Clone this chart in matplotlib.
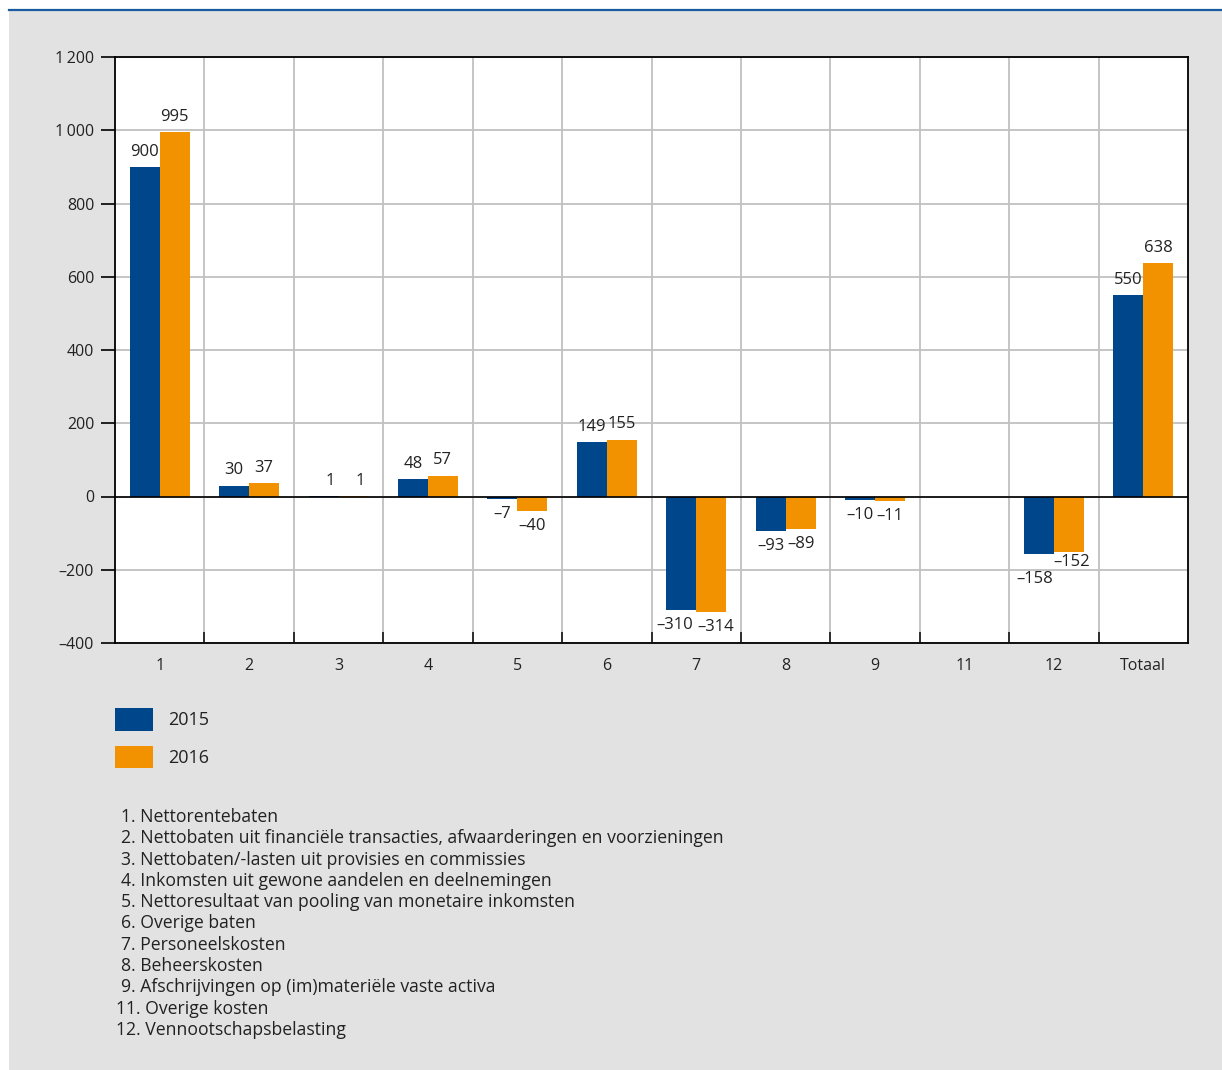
import numpy as np
import matplotlib
matplotlib.use("Agg")
import matplotlib.pyplot as plt
from matplotlib.patches import Rectangle
from matplotlib.ticker import FuncFormatter, FixedLocator

plt.rcParams['font.family'] = ['Open Sans', 'DejaVu Sans']

# data
categories = ['1', '2', '3', '4', '5', '6', '7', '8', '9', '11', '12', 'Totaal']
v2015 = [900, 30, 1, 48, -7, 149, -310, -93, -10, np.nan, -158, 550]
v2016 = [995, 37, 1, 57, -40, 155, -314, -89, -11, np.nan, -152, 638]
years = ['2015', '2016']
notes = [
    '1. Nettorentebaten',
    '2. Nettobaten uit financiële transacties, afwaarderingen en voorzieningen',
    '3. Nettobaten/-lasten uit provisies en commissies',
    '4. Inkomsten uit gewone aandelen en deelnemingen',
    '5. Nettoresultaat van pooling van monetaire inkomsten',
    '6. Overige baten',
    '7. Personeelskosten',
    '8. Beheerskosten',
    '9. Afschrijvingen op (im)materiële vaste activa',
    '11. Overige kosten',
    '12. Vennootschapsbelasting',
]

blue = '#00468b'
orange = '#f39200'
bg = '#e2e2e2'
txt = '#222222'

W, H = 1222, 1070
fig = plt.figure(figsize=(W / 100, H / 100), dpi=100, facecolor='white')
fig.add_artist(Rectangle((9 / W, 0), 1, (H - 10) / H, transform=fig.transFigure,
                         facecolor=bg, edgecolor='none', zorder=0))
fig.add_artist(plt.Line2D([9 / W, 1], [1 - 9.5 / H] * 2, transform=fig.transFigure,
                          color='#1a5aa0', lw=1.6))

ax = fig.add_axes([115 / W, 1 - 643 / H, (1188 - 115) / W, (643 - 57) / H])
ax.set_facecolor('white')

x = np.arange(len(categories))
bw = 0.335
b1 = ax.bar(x - bw / 2, np.nan_to_num(v2015), bw, color=blue, label=years[0], zorder=3)
b2 = ax.bar(x + bw / 2, np.nan_to_num(v2016), bw, color=orange, label=years[1], zorder=3)

def fmt(v, pos=None):
    s = '{:,.0f}'.format(abs(v)).replace(',', '\u2009')
    return ('\u2013' if v < 0 else '') + s

for bars, vals in [(b1, v2015), (b2, v2016)]:
    for i, (r, v) in enumerate(zip(bars, vals)):
        if np.isnan(v):
            continue
        dx = 0
        dy = 11 if v > 0 else -11
        if categories[i] == '12':
            dy = -18 if bars is b1 else -7
            dx = -3 if bars is b1 else 2
        if categories[i] == '7':
            dx = -5 if bars is b1 else 3
        if categories[i] == '3':
            dx = 5
        ax.annotate(fmt(v), (r.get_x() + r.get_width() / 2, v), xytext=(dx, dy),
                    textcoords='offset points', ha='center', va='center',
                    fontsize=12, color=txt, zorder=4)

ax.set_xlim(-0.5, len(categories) - 0.5)
ax.set_ylim(-400, 1200)
ax.set_yticks(np.arange(-400, 1201, 200))
ax.yaxis.set_major_formatter(FuncFormatter(fmt))
ax.set_xticks(x)
ax.set_xticklabels(categories)
ax.xaxis.set_minor_locator(FixedLocator(np.arange(0.5, len(categories) - 1, 1)))
ax.tick_params(axis='x', which='major', length=0, pad=11, labelsize=11.5, labelcolor=txt)
ax.tick_params(axis='x', which='minor', length=8, width=1.3, direction='in', color='#222222')
ax.tick_params(axis='y', length=10, width=1.2, pad=5, labelsize=11.5, labelcolor=txt)

ax.grid(axis='y', color='#c0c0c0', lw=1.3, zorder=1)
ax.grid(axis='x', which='minor', color='#c0c0c0', lw=1.3, zorder=1)
ax.axhline(0, color='black', lw=1.2, zorder=3.5)
for s in ax.spines.values():
    s.set_color('black')
    s.set_linewidth(1.3)

fig.legend(handles=[b1, b2], labels=years, loc='upper left',
           bbox_to_anchor=(115 / W, 1 - 708 / H), frameon=False, fontsize=13,
           handlelength=2.1, handleheight=1.55, handletextpad=0.85, labelspacing=0.83,
           borderpad=0, borderaxespad=0, labelcolor=txt)

for i, line in enumerate(notes):
    xpos = 116 if line[1].isdigit() else 121
    fig.text(xpos / W, 1 - (817 + i * 21.3) / H, line, fontsize=12.7, color=txt,
             ha='left', va='center')

fig.savefig('out.png', dpi=100, facecolor=fig.get_facecolor())
